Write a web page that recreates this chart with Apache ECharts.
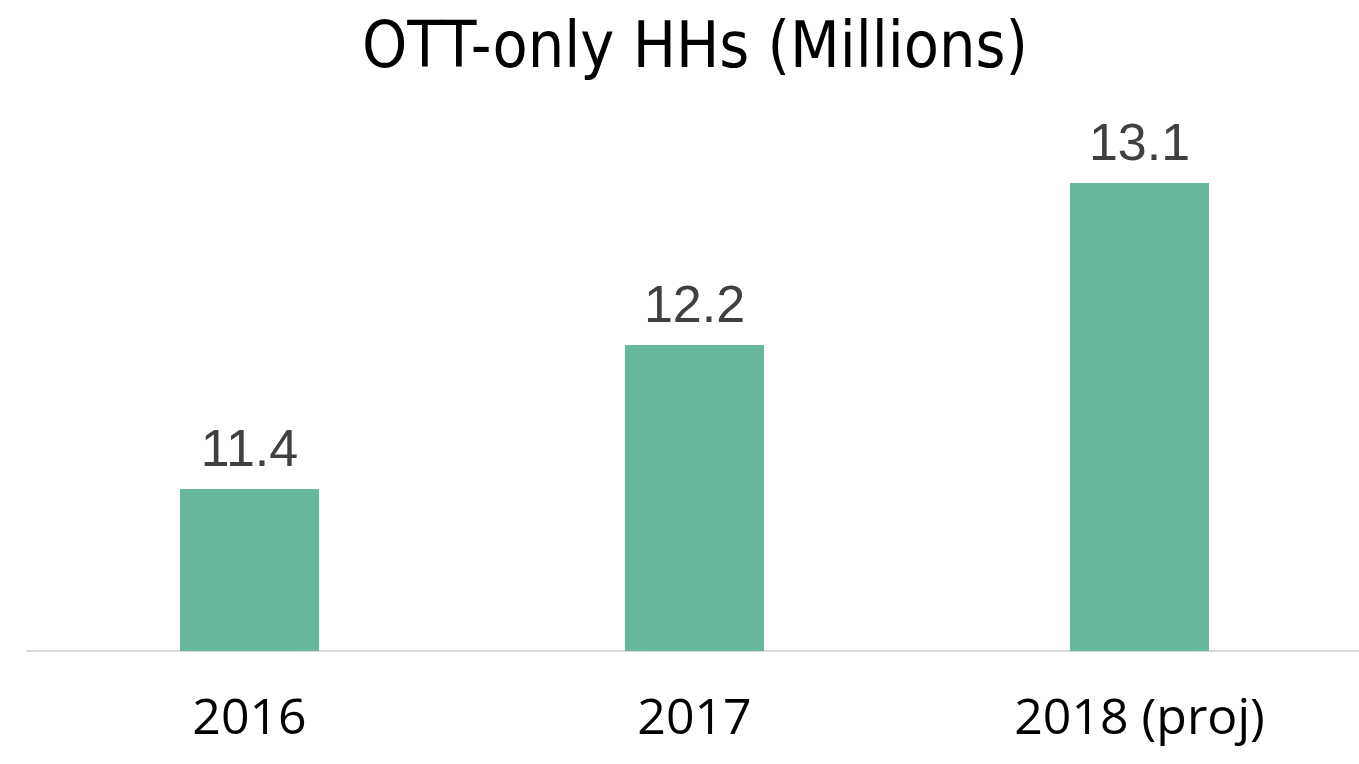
<!DOCTYPE html>
<html>
<head>
<meta charset="utf-8">
<script src="https://cdn.jsdelivr.net/npm/echarts@6/dist/echarts.min.js"></script>
<style>
  html, body { margin: 0; padding: 0; background: #fff; overflow: hidden; }
  /* a bit wider than the window so the last bar lands where the original has it */
  #main { width: 1362px; height: 764px; }
</style>
</head>
<body>
<div id="main"></div>
<script>
// data
var years = ['2016', '2017', '2018 (proj)'];
var households = [11.4, 12.2, 13.1];

var chart = echarts.init(document.getElementById('main'));

chart.setOption({
    animation: false,
    backgroundColor: '#ffffff',
    title: {
        text: 'OTT-only HHs (Millions)',
        left: 357,
        top: 13,
        textStyle: {
            fontFamily: '"DejaVu Sans Condensed", "DejaVu Sans", sans-serif',
            fontSize: 64,
            fontWeight: 'normal',
            color: '#000000'
        }
    },
    grid: {
        left: 27,
        right: 0,
        top: 93,
        bottom: 113
    },
    xAxis: {
        type: 'category',
        data: years,
        axisLine: { lineStyle: { color: '#d9d9d9', width: 2 } },
        axisTick: { show: false },
        axisLabel: {
            margin: 44,
            fontFamily: '"Open Sans", sans-serif',
            fontSize: 50,
            color: '#000000'
        }
    },
    yAxis: {
        type: 'value',
        min: 10.5,
        max: 13.6,
        show: false,
        splitLine: { show: false }
    },
    series: [{
        type: 'bar',
        data: households,
        barWidth: 139,
        itemStyle: { color: '#67b79b' },
        label: {
            show: true,
            position: 'top',
            distance: 11,
            fontFamily: '"Liberation Sans", Arial, sans-serif',
            fontSize: 52,
            color: '#404040',
            formatter: function (p) {
                return p.value.toFixed(1);
            }
        }
    }]
});
</script>
</body>
</html>
